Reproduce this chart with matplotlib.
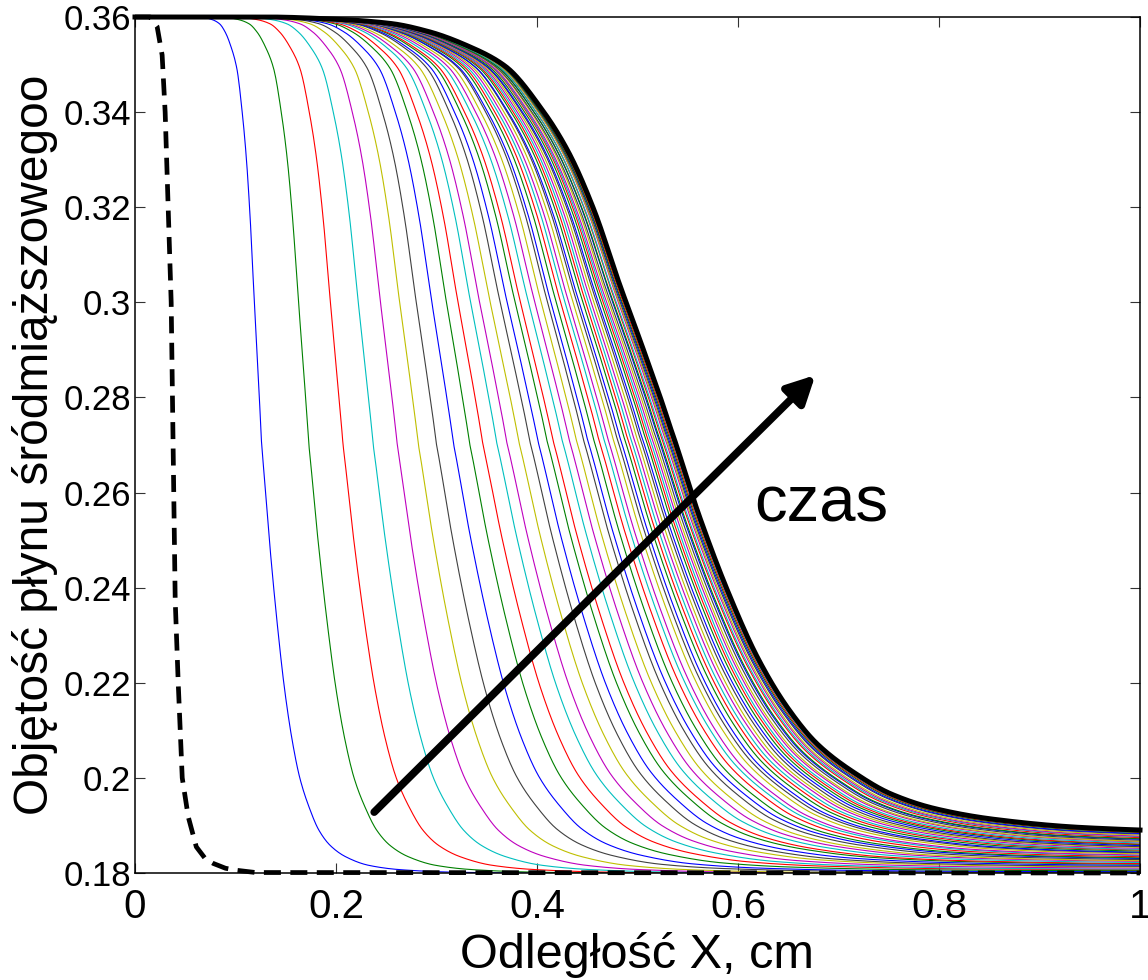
import numpy as np
import matplotlib.pyplot as plt
from matplotlib.ticker import FuncFormatter

# front position (x where the profile is half-way down), cm
front_x = [0.126, 0.173, 0.207, 0.237, 0.261, 0.282, 0.300, 0.317, 0.333, 0.346,
           0.360, 0.370, 0.382, 0.393, 0.401, 0.410, 0.416, 0.425, 0.432, 0.439,
           0.446, 0.450, 0.456, 0.461, 0.466, 0.470, 0.475, 0.479, 0.482, 0.486,
           0.489, 0.492, 0.495, 0.498, 0.501, 0.503, 0.506, 0.508, 0.510, 0.512,
           0.514, 0.516, 0.518, 0.519, 0.521, 0.522, 0.524, 0.525, 0.526, 0.527,
           0.528, 0.529, 0.530, 0.531, 0.532]
# spread of the profile above / below the front
upper_w = [0.019, 0.027, 0.033, 0.039, 0.044, 0.049, 0.053, 0.057, 0.061, 0.065,
           0.069, 0.072, 0.076, 0.079, 0.082, 0.085, 0.087, 0.090, 0.092, 0.094,
           0.096, 0.098, 0.100, 0.102, 0.104, 0.105, 0.107, 0.108, 0.110, 0.111,
           0.112, 0.113, 0.114, 0.115, 0.116, 0.117, 0.118, 0.118, 0.119, 0.120,
           0.120, 0.121, 0.121, 0.122, 0.122, 0.123, 0.123, 0.124, 0.124, 0.124,
           0.125, 0.125, 0.125, 0.126, 0.126]
lower_w = [0.038, 0.045, 0.053, 0.060, 0.067, 0.074, 0.080, 0.085, 0.090, 0.095,
           0.099, 0.103, 0.106, 0.109, 0.112, 0.115, 0.117, 0.119, 0.121, 0.123,
           0.125, 0.127, 0.128, 0.130, 0.131, 0.132, 0.134, 0.135, 0.136, 0.137,
           0.138, 0.139, 0.140, 0.140, 0.141, 0.142, 0.142, 0.143, 0.143, 0.144,
           0.144, 0.145, 0.145, 0.145, 0.146, 0.146, 0.146, 0.146, 0.147, 0.147,
           0.147, 0.147, 0.147, 0.147, 0.147]
# level reached far from the front
floor_y = [0.1800, 0.1800, 0.1800, 0.1800, 0.1800, 0.1800, 0.1802, 0.1803, 0.1805, 0.1807,
           0.1808, 0.1810, 0.1812, 0.1813, 0.1815, 0.1817, 0.1818, 0.1820, 0.1822, 0.1823,
           0.1825, 0.1827, 0.1828, 0.1830, 0.1832, 0.1833, 0.1835, 0.1837, 0.1838, 0.1840,
           0.1842, 0.1843, 0.1845, 0.1847, 0.1848, 0.1850, 0.1852, 0.1853, 0.1855, 0.1857,
           0.1858, 0.1860, 0.1862, 0.1863, 0.1865, 0.1867, 0.1868, 0.1870, 0.1872, 0.1873,
           0.1875, 0.1876, 0.1877, 0.1878, 0.1879]

# last profile (thick black)
final_front, final_up, final_low, final_floor = 0.532, 0.126, 0.147, 0.188

# initial profile (dashed)
init_x = [0.0, 0.015, 0.022, 0.027, 0.030, 0.033, 0.036, 0.040, 0.043, 0.047,
          0.053, 0.061, 0.070, 0.078, 0.090, 0.100, 0.120, 1.0]
init_y = [0.36, 0.36, 0.358, 0.352, 0.34, 0.32, 0.30, 0.2374, 0.22, 0.20,
          0.1918, 0.1855, 0.1830, 0.1820, 0.1810, 0.1806, 0.1801, 0.18]

# normalised front shape (distance in widths -> fraction of the jump)
shape_s = [-3.2, -2.6, -2.2, -1.9, -1.6, -1.3, -1.0, -0.8, -0.6, -0.4, -0.2, 0.0,
           0.2, 0.4, 0.6, 0.8, 1.0, 1.25, 1.5, 1.8, 2.2, 2.8, 3.6, 5.0, 7.0]
shape_n = [1.0, 0.997, 0.992, 0.982, 0.965, 0.940, 0.885, 0.835, 0.765, 0.675, 0.590, 0.500,
           0.390, 0.295, 0.215, 0.155, 0.111, 0.076, 0.050, 0.032, 0.019, 0.009, 0.004, 0.001, 0.0]

y_top = 0.36
x = np.linspace(0, 1, 1201)


def pchip(xk, yk, xq):
    """Monotone cubic through the shape points (no scipy here)."""
    xk = np.asarray(xk, float)
    yk = np.asarray(yk, float)
    h = np.diff(xk)
    d = np.diff(yk) / h
    m = np.zeros_like(yk)
    for k in range(1, len(xk) - 1):
        if d[k - 1] * d[k] > 0:
            w1 = 2 * h[k] + h[k - 1]
            w2 = h[k] + 2 * h[k - 1]
            m[k] = (w1 + w2) / (w1 / d[k - 1] + w2 / d[k])
    xq = np.clip(xq, xk[0], xk[-1])
    i = np.clip(np.searchsorted(xk, xq) - 1, 0, len(xk) - 2)
    t = (xq - xk[i]) / h[i]
    return ((2 * t**3 - 3 * t**2 + 1) * yk[i] + (t**3 - 2 * t**2 + t) * h[i] * m[i]
            + (-2 * t**3 + 3 * t**2) * yk[i + 1] + (t**3 - t**2) * h[i] * m[i + 1])


def profile(x0, wu, wl, low):
    s = np.where(x < x0, (x - x0) / wu, (x - x0) / wl)
    return low + (y_top - low) * pchip(shape_s, shape_n, s)


matlab_colors = [(0, 0, 1), (0, 0.5, 0), (1, 0, 0), (0, 0.75, 0.75),
                 (0.75, 0, 0.75), (0.75, 0.75, 0), (0.25, 0.25, 0.25)]

plt.rcParams['font.family'] = 'Liberation Sans'

fig = plt.figure(figsize=(11.48, 9.8), dpi=100)
ax = fig.add_axes([135 / 1148, 107 / 980, 1005 / 1148, 856 / 980])

for i in range(len(front_x)):
    ax.plot(x, profile(front_x[i], upper_w[i], lower_w[i], floor_y[i]),
            color=matlab_colors[i % 7], lw=0.8)

ax.plot(x, profile(final_front, final_up, final_low, final_floor),
        color='k', lw=3.6, clip_on=False, zorder=4)
ax.plot(init_x, init_y, color='k', lw=3.4, ls=(0, (3.6, 2.0)), clip_on=False, zorder=5)

ax.annotate('', xy=(0.677, 0.2847), xytext=(0.238, 0.1928),
            arrowprops=dict(arrowstyle='-|>,head_length=0.55,head_width=0.28',
                            lw=5.5, color='k', mutation_scale=30,
                            shrinkA=0, shrinkB=0), zorder=6)
ax.text(0.683, 0.2575, 'czas', fontsize=47, ha='center', va='center')

ax.set_xlim(0, 1)
ax.set_ylim(0.18, 0.36)
ax.set_xticks([0, 0.2, 0.4, 0.6, 0.8, 1])
ax.set_yticks(np.round(np.arange(0.18, 0.3601, 0.02), 2))
fmt = FuncFormatter(lambda v, p: f'{v:g}')
ax.xaxis.set_major_formatter(fmt)
ax.yaxis.set_major_formatter(fmt)
ax.tick_params(direction='in', length=7, width=0.8, color='#333333',
               top=True, right=True)
ax.tick_params(axis='x', pad=11, labelsize=29)
ax.tick_params(axis='y', pad=3, labelsize=25)
for sp in ax.spines.values():
    sp.set_linewidth(1.1)

ax.set_xlabel('Odległość X, cm', fontsize=35, labelpad=4)
ax.set_ylabel('Objętość płynu śródmiąższowegoo', fontsize=34.5, labelpad=4)

fig.savefig('out.png', dpi=100)
